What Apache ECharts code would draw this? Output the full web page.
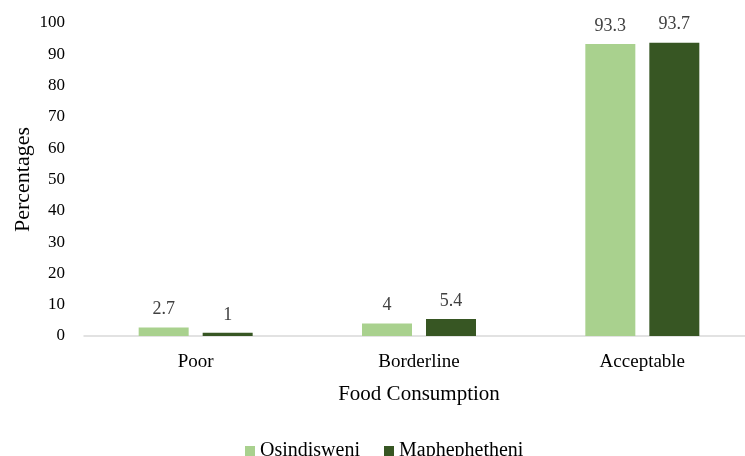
<!DOCTYPE html>
<html>
<head>
<meta charset="utf-8">
<script src="https://cdn.jsdelivr.net/npm/echarts@6/dist/echarts.min.js"></script>
<style>
  html, body { margin: 0; padding: 0; background: #fff; overflow: hidden; }
  #main { width: 756px; height: 456px; }
</style>
</head>
<body>
<div id="main"></div>
<script>
// data
var categories = ['Poor', 'Borderline', 'Acceptable'];
var osindisweni = [2.7, 4, 93.3];
var maphephetheni = [1, 5.4, 93.7];
var yTicks = [0, 10, 20, 30, 40, 50, 60, 70, 80, 90, 100];

var font = '"Liberation Serif", "DejaVu Serif", serif';

var myChart = echarts.init(document.getElementById('main'));

var option = {
    animation: false,
    textStyle: { fontFamily: font },
    grid: {
        left: 84,
        top: 23,
        right: 2,
        bottom: 120,
        containLabel: false
    },
    legend: {
        data: ['Osindisweni', 'Maphephetheni'],
        top: 436,
        left: 240,
        itemWidth: 10,
        itemHeight: 10,
        itemGap: 24,
        icon: 'rect',
        textStyle: { fontFamily: font, fontSize: 20, color: '#000' }
    },
    xAxis: {
        type: 'category',
        data: categories,
        name: 'Food Consumption',
        nameLocation: 'middle',
        nameGap: 48,
        nameTextStyle: { fontFamily: font, fontSize: 21, color: '#000' },
        axisLine: { lineStyle: { color: '#d9d9d9', width: 1.5 } },
        axisTick: { show: false },
        axisLabel: { fontFamily: font, fontSize: 19, color: '#000', margin: 17 }
    },
    yAxis: {
        type: 'value',
        min: 0,
        max: yTicks[yTicks.length - 1],
        interval: 10,
        name: 'Percentages',
        nameLocation: 'middle',
        nameGap: 50,
        nameMoveOverlap: false,
        nameTextStyle: { fontFamily: font, fontSize: 22, color: '#000' },
        splitLine: { show: false },
        axisLine: { show: false },
        axisTick: { show: false },
        axisLabel: { fontFamily: font, fontSize: 17, color: '#000', margin: 19 }
    },
    series: [
        {
            name: 'Osindisweni',
            type: 'bar',
            data: osindisweni,
            barWidth: 50,
            barGap: '28%',
            itemStyle: { color: '#a9d18e' },
            label: {
                show: true,
                position: 'top',
                distance: 9,
                fontFamily: font,
                fontSize: 18,
                color: '#404040'
            }
        },
        {
            name: 'Maphephetheni',
            type: 'bar',
            data: maphephetheni,
            barWidth: 50,
            itemStyle: { color: '#375623' },
            label: {
                show: true,
                position: 'top',
                distance: 9,
                fontFamily: font,
                fontSize: 18,
                color: '#404040'
            }
        }
    ]
};

myChart.setOption(option);
</script>
</body>
</html>
